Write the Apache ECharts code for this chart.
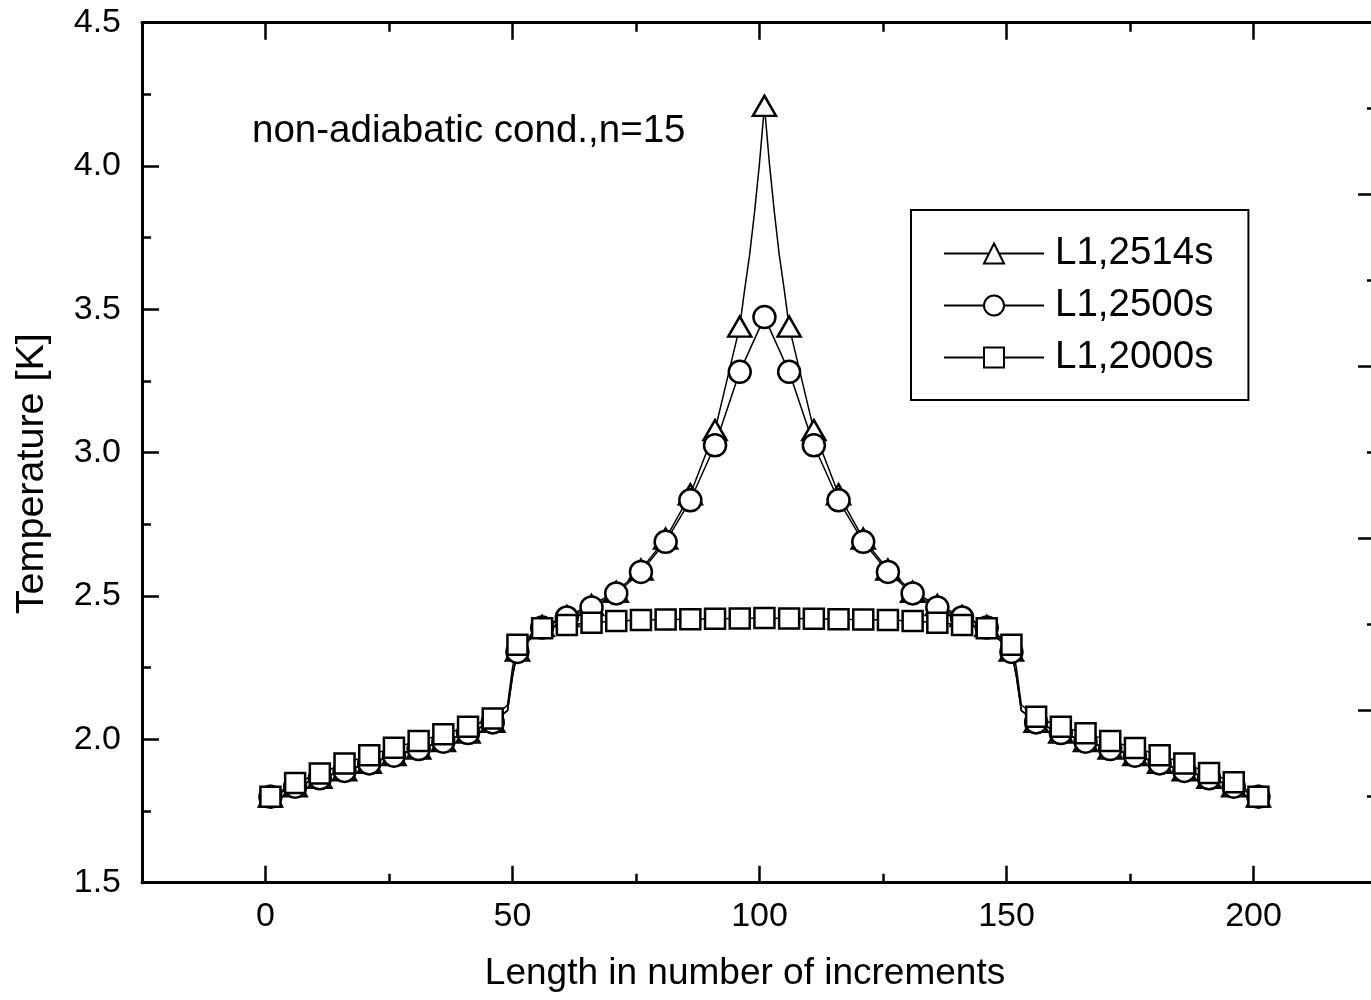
<!DOCTYPE html>
<html>
<head>
<meta charset="utf-8">
<script src="https://cdn.jsdelivr.net/npm/echarts@6/dist/echarts.min.js"></script>
<style>
html, body { margin: 0; padding: 0; overflow: hidden; background: #fff; }
#chart { width: 1400px; height: 1000px; }
</style>
</head>
<body>
<div id="chart"></div>
<script>
// ---- data ----
const increments = [1, 6, 11, 16, 21, 26, 31, 36, 41, 46, 51, 56, 61, 66, 71, 76, 81, 86, 91, 96, 101,
  106, 111, 116, 121, 126, 131, 136, 141, 146, 151, 156, 161, 166, 171, 176, 181, 186, 191, 196, 201];

const temp2514 = [1.800, 1.836, 1.866, 1.892, 1.918, 1.945, 1.968, 1.994, 2.024, 2.061, 2.310, 2.395, 2.430, 2.468, 2.515, 2.592, 2.700, 2.855, 3.079, 3.440, 4.210,
  3.440, 3.079, 2.855, 2.700, 2.592, 2.515, 2.468, 2.430, 2.395, 2.310, 2.061, 2.024, 1.994, 1.968, 1.945, 1.918, 1.892, 1.866, 1.836, 1.800];
const temp2500 = [1.800, 1.835, 1.864, 1.890, 1.916, 1.943, 1.966, 1.992, 2.022, 2.059, 2.305, 2.390, 2.425, 2.460, 2.509, 2.584, 2.689, 2.834, 3.026, 3.282, 3.473,
  3.282, 3.026, 2.834, 2.689, 2.584, 2.509, 2.460, 2.425, 2.390, 2.305, 2.059, 2.022, 1.992, 1.966, 1.943, 1.916, 1.890, 1.864, 1.835, 1.800];
const temp2000 = [1.800, 1.848, 1.881, 1.916, 1.945, 1.971, 1.994, 2.018, 2.044, 2.073, 2.330, 2.388, 2.399, 2.407, 2.413, 2.416, 2.418, 2.419, 2.421, 2.422, 2.423,
  2.422, 2.421, 2.419, 2.418, 2.416, 2.413, 2.407, 2.399, 2.388, 2.330, 2.079, 2.044, 2.021, 1.994, 1.970, 1.945, 1.916, 1.883, 1.850, 1.800];

// line-only points (no marker)
const lineX2514 = [49, 50, 97, 98, 99, 100, 102, 103, 104, 105, 152, 153];
const lineT2514 = [2.10, 2.22, 3.57, 3.69, 3.84, 4.01, 4.01, 3.84, 3.69, 3.57, 2.22, 2.10];
const lineX2500 = [49, 50, 152, 153];
const lineT2500 = [2.10, 2.22, 2.22, 2.10];
const lineX2000 = [49, 50, 152, 153];
const lineT2000 = [2.12, 2.25, 2.25, 2.12];

const seriesNames = ['L1,2514s', 'L1,2500s', 'L1,2000s'];
const xMajorTicks = [0, 50, 100, 150, 200];
const xMinorTicks = [25, 75, 125, 175];
const annotation = 'non-adiabatic cond.,n=15';
const xTitle = 'Length in number of increments';
const yTitle = 'Temperature [K]';

// ---- build ----
function build(xs, ys, lx, ly) {
  const pts = xs.map((x, i) => ({ value: [x, ys[i]] }));
  lx.forEach((x, i) => pts.push({ value: [x, ly[i]], symbol: 'none' }));
  pts.sort((a, b) => a.value[0] - b.value[0]);
  return pts;
}

const FONT = 'Liberation Sans, Arial, Helvetica, sans-serif';
const chart = echarts.init(document.getElementById('chart'), null, { renderer: 'canvas' });

function mkSeries(name, data, symbol, size) {
  return {
    name: name,
    type: 'line',
    xAxisIndex: 0,
    yAxisIndex: 0,
    data: data,
    symbol: symbol,
    symbolSize: size,
    showAllSymbol: true,
    lineStyle: { color: '#000', width: 1.5 },
    itemStyle: { color: '#fff', borderColor: '#000', borderWidth: 2.5 },
    emphasis: { disabled: true },
    z: 3
  };
}

const axisLineStyle = { show: true, onZero: false, lineStyle: { color: '#000', width: 3 } };
const tickStyle = { color: '#000', width: 2.5 };

const option = {
  animation: false,
  backgroundColor: '#fff',
  grid: { left: 142, top: 22.7, width: 1235, height: 860, containLabel: false },
  xAxis: [
    {
      type: 'value', position: 'bottom', min: -25, max: 225, interval: 25,
      axisLine: axisLineStyle,
      axisTick: { show: true, inside: true, length: 17, lineStyle: tickStyle, customValues: xMajorTicks },
      axisLabel: { show: true, customValues: xMajorTicks, color: '#000', fontSize: 34, fontFamily: FONT, margin: 17 },
      splitLine: { show: false },
      name: xTitle, nameLocation: 'middle', nameGap: 73,
      nameTextStyle: { color: '#000', fontSize: 37, fontFamily: FONT, padding: [0, 29, 0, 0] }
    },
    {
      type: 'value', position: 'bottom', min: -25, max: 225, interval: 25,
      axisLine: { show: false, onZero: false },
      axisTick: { show: true, inside: true, length: 9, lineStyle: tickStyle, customValues: xMinorTicks },
      axisLabel: { show: false },
      splitLine: { show: false }
    },
    {
      type: 'value', position: 'top', min: -25, max: 225, interval: 25,
      axisLine: axisLineStyle,
      axisTick: { show: true, inside: true, length: 17, lineStyle: tickStyle, customValues: xMajorTicks },
      axisLabel: { show: false },
      splitLine: { show: false }
    },
    {
      type: 'value', position: 'top', min: -25, max: 225, interval: 25,
      axisLine: { show: false, onZero: false },
      axisTick: { show: true, inside: true, length: 9, lineStyle: tickStyle, customValues: xMinorTicks },
      axisLabel: { show: false },
      splitLine: { show: false }
    }
  ],
  yAxis: [
    {
      type: 'value', position: 'left', min: 1.5, max: 4.5, interval: 0.5,
      axisLine: axisLineStyle,
      axisTick: { show: true, inside: true, length: 17, lineStyle: tickStyle },
      minorTick: { show: true, splitNumber: 2, length: 9, lineStyle: tickStyle },
      axisLabel: { color: '#000', fontSize: 34, fontFamily: FONT, margin: 21, formatter: v => v.toFixed(1) },
      splitLine: { show: false }, minorSplitLine: { show: false },
      name: yTitle, nameLocation: 'middle', nameGap: 90, nameRotate: 90,
      nameTextStyle: { color: '#000', fontSize: 39.5, fontFamily: FONT, padding: [0, 42, 0, 0] }
    },
    {
      type: 'value', position: 'right', min: 0, max: 10, interval: 2,
      axisLine: axisLineStyle,
      axisTick: { show: true, inside: true, length: 19, lineStyle: tickStyle },
      minorTick: { show: true, splitNumber: 2, length: 10, lineStyle: tickStyle },
      axisLabel: { show: false },
      splitLine: { show: false }, minorSplitLine: { show: false }
    }
  ],
  legend: {
    orient: 'vertical', left: 911, top: 210,
    data: seriesNames,
    itemWidth: 100, itemHeight: 25, itemGap: 13,
    borderColor: '#000', borderWidth: 2, padding: [24, 35, 23, 32],
    backgroundColor: '#fff',
    selectedMode: false,
    textStyle: { color: '#000', fontSize: 38.5, fontFamily: FONT, padding: [0, 0, 0, 6] }
  },
  graphic: [
    {
      type: 'text', left: 252, top: 112,
      style: { text: annotation, fill: '#000', font: '38.5px ' + FONT }
    }
  ],
  series: [
    mkSeries(seriesNames[0], build(increments, temp2514, lineX2514, lineT2514), 'triangle', [23, 20]),
    mkSeries(seriesNames[1], build(increments, temp2500, lineX2500, lineT2500), 'circle', 22),
    mkSeries(seriesNames[2], build(increments, temp2000, lineX2000, lineT2000), 'rect', 20)
  ]
};

chart.setOption(option);
</script>
</body>
</html>
